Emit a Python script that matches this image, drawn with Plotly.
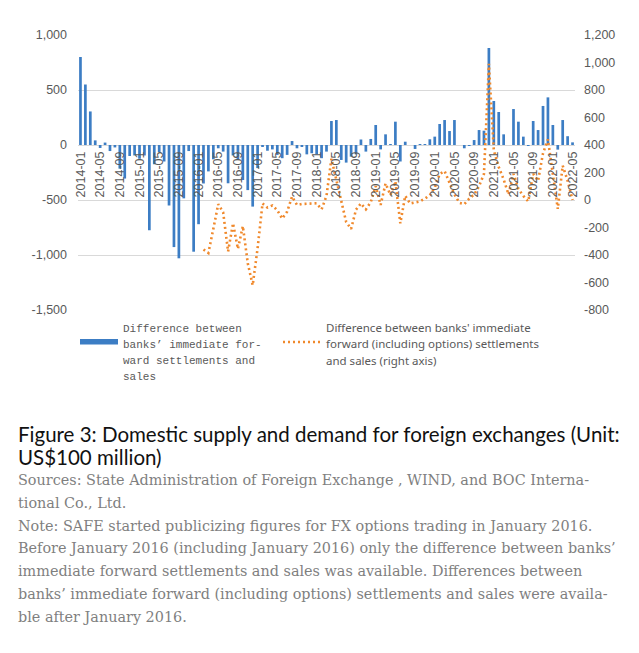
import plotly.graph_objects as go

# ---------------- data ----------------
months = []
for y in range(2014, 2023):
    for m in range(1, 13):
        if y == 2022 and m > 5:
            break
        months.append(f"{y}-{m:02d}")  # 2014-01 .. 2022-05 (101 months)

spot_fwd_diff = [
    800, 550, 305, 42, -27, 22, -55, -22, -215, -305, -100, -95,
    -125, -95, -775, -175, -65, -150, -550, -928, -1030, -485, -55, -970,
    -720, -350, -240, -130, -30, -60, -348, -95, -135, -318, -410, -560,
    -210, -15, -52, -40, -90, -120, -90, 36, -30, -15, -85, -75,
    -85, -120, -60, 218, 227, -136, -160, -106, -85, 50, -60, 55,
    182, -40, 97, 3, 212, -150, 30, 0, -36, 2, 3, 52,
    76, 191, 227, 127, 227, 0, -30, -9, 45, 136, 130, 882,
    400, 300, 97, 0, 327, 212, 76, -9, 218, 136, 355, 433,
    182, -42, 227, 80, 24,
]

with_options_diff = [None] * 25 + [
    -360, -385, -210, -30, -90, -375, -170, -355, -190, -460, -620,
    -350, -25, -55, -40, -75, -135, -85, 25, -36, -29, -29, -29,
    -24, -68, 30, 300, 145, 0, -160, -210, -70, -25, -68, -15,
    100, -36, 120, 36, 135, -170, 30, -25, -15, -10, 10, 35,
    90, 190, 210, 130, 40, -20, -30, 10, 40, 100, 190, 990,
    360, 240, 150, 40, 190, 80, 30, -10, 190, 140, 340, 440,
    180, -65, 250, 140, 0,
]

x_tick_labels = months[::4]
left_ticks = [-1500, -1000, -500, 0, 500, 1000]
left_tick_text = ["-1,500", "-1,000", "-500", "0", "500", "1,000"]
right_ticks = [-800, -600, -400, -200, 0, 200, 400, 600, 800, 1000, 1200]
right_tick_text = ["-800", "-600", "-400", "-200", "0", "200", "400", "600", "800", "1,000", "1,200"]

legend_bar_text = ["Difference between", "banks’ immediate for-", "ward settlements and", "sales"]
legend_line_text = ["Difference between banks' immediate",
                    "forward (including options) settlements",
                    "and sales (right axis)"]
caption_title = ["Figure 3: Domestic supply and demand for foreign exchanges (Unit:",
                 "US$100 million)"]
caption_notes = [
    "Sources: State Administration of Foreign Exchange , WIND, and BOC Interna-",
    "tional Co., Ltd.",
    "Note: SAFE started publicizing figures for FX options trading in January 2016.",
    "Before January 2016 (including January 2016) only the difference between banks’",
    "immediate forward settlements and sales was available. Differences between",
    "banks’ immediate forward (including options) settlements and sales were availa-",
    "ble after January 2016.",
]

# ---------------- layout geometry ----------------
OFF = 8                      # page body margin
W, H = 639 - OFF, 653 - OFF
PL, PR, PT, PB = 78 - OFF, 575 - OFF, 35 - OFF, 310 - OFF  # plot area (figure px)


def px_x(x):  # x in screenshot pixels -> paper
    return (x - OFF - PL) / (PR - PL)


def px_y(y):  # y in screenshot pixels -> paper
    return (PB - (y - OFF)) / (PB - PT)


BLUE = "#3C7DC4"
ORANGE = "#F0892C"
GRAY = "#595959"

fig = go.Figure()
fig.add_trace(go.Bar(x=months, y=spot_fwd_diff, marker_color=BLUE,
                     marker_line_width=0, showlegend=False))
fig.add_trace(go.Scatter(x=months, y=with_options_diff, yaxis="y2", mode="lines",
                         line=dict(color=ORANGE, width=2.6, dash="2px,3px"),
                         connectgaps=False, showlegend=False))

annotations = []
for k, t in enumerate(legend_bar_text):
    annotations.append(dict(x=px_x(121), y=px_y(329 + k * 16), xref="paper", yref="paper",
                            text=t, showarrow=False, xanchor="left", yanchor="middle",
                            font=dict(family="Liberation Mono", size=11, color=GRAY)))
for k, t in enumerate(legend_line_text):
    annotations.append(dict(x=px_x(324), y=px_y(327.5 + k * 16.3), xref="paper", yref="paper",
                            text=t, showarrow=False, xanchor="left", yanchor="middle",
                            font=dict(family="Noto Sans", size=11.5, color=GRAY)))
for k, t in enumerate(caption_title):
    annotations.append(dict(x=px_x(16), y=px_y(434 + k * 23), xref="paper", yref="paper",
                            text=t, showarrow=False, xanchor="left", yanchor="middle",
                            font=dict(family="Lato", size=20.5, color="#111111")))
for k, t in enumerate(caption_notes):
    annotations.append(dict(x=px_x(16), y=px_y(480 + k * 22.8), xref="paper", yref="paper",
                            text=t, showarrow=False, xanchor="left", yanchor="middle",
                            font=dict(family="DejaVu Serif", size=14.4, color="#7F7F7F")))

shapes = [
    dict(type="rect", xref="paper", yref="paper", x0=px_x(80), x1=px_x(118),
         y0=px_y(339), y1=px_y(344.5), fillcolor=BLUE, line=dict(width=0)),
    dict(type="line", xref="paper", yref="paper", x0=px_x(283), x1=px_x(320),
         y0=px_y(342), y1=px_y(342), line=dict(color=ORANGE, width=2.6, dash="2px,3px")),
]

fig.update_layout(
    width=W, height=H,
    margin=dict(l=PL, r=W - PR, t=PT, b=H - PB),
    paper_bgcolor="white", plot_bgcolor="white",
    bargap=0.45,
    font=dict(family="Liberation Sans", size=13, color=GRAY),
    xaxis=dict(type="category", range=[-0.5, len(months) - 0.5],
               tickmode="array", tickvals=x_tick_labels, ticktext=x_tick_labels,
               tickangle=-90, anchor="free", position=0.6,
               showgrid=False, showline=False, ticks="", zeroline=False,
               tickfont=dict(size=12.5, color=GRAY), ticklabelstandoff=3),
    yaxis=dict(range=[-1500, 1000], tickmode="array", tickvals=left_ticks,
               ticktext=left_tick_text, showgrid=True, gridcolor="#D9D9D9",
               gridwidth=1, zeroline=True, zerolinecolor="#D9D9D9", zerolinewidth=1,
               showline=False, ticks="", tickfont=dict(size=12.5, color=GRAY),
               ticklabelstandoff=10),
    yaxis2=dict(range=[-800, 1200], overlaying="y", side="right", tickmode="array",
                tickvals=right_ticks, ticktext=right_tick_text, showgrid=False,
                zeroline=False, showline=False, ticks="",
                tickfont=dict(size=12.5, color=GRAY), ticklabelstandoff=8),
    annotations=annotations,
    shapes=shapes,
)

fig.write_html("out.html")
